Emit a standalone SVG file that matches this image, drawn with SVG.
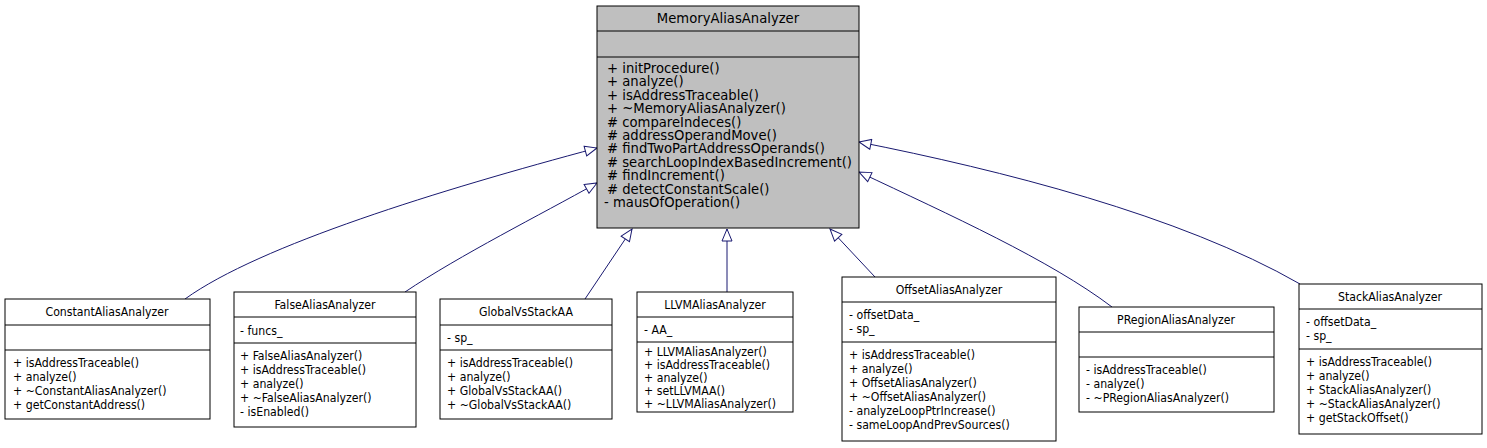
<svg xmlns="http://www.w3.org/2000/svg" width="1487" height="448" viewBox="0 0 1487 448">
<style>
.b{fill:#fff;stroke:#000;stroke-width:1}
.g{fill:#bfbfbf;stroke:#000;stroke-width:1}
text{font-family:"DejaVu Sans Condensed","DejaVu Sans",sans-serif;font-size:12.2px;fill:#000}
.t text{font-family:"DejaVu Sans",sans-serif;font-size:13.2px}
.c{text-anchor:middle}
.e{fill:none;stroke:#191970;stroke-width:1}
</style>
<defs><marker id="a" markerWidth="14" markerHeight="12" refX="13" refY="6" orient="auto" markerUnits="userSpaceOnUse"><path d="M1,1 L13,6 L1,11 Z" fill="#fff" stroke="#191970"/></marker></defs>
<rect width="1487" height="448" fill="#fff"/>
<g id="edges">
<path class="e" marker-end="url(#a)" d="M185,299 C260,245 440,190 597,148"/>
<path class="e" marker-end="url(#a)" d="M405,292 C460,255 540,215 597,183"/>
<path class="e" marker-end="url(#a)" d="M585,299 L632,229"/>
<path class="e" marker-end="url(#a)" d="M727,292 L727,229"/>
<path class="e" marker-end="url(#a)" d="M875,277 L830,229"/>
<path class="e" marker-end="url(#a)" d="M1112,307 C1050,260 950,215 859,172"/>
<path class="e" marker-end="url(#a)" d="M1300,284 C1180,215 1000,170 859,142"/>
</g>
<g id="MemoryAliasAnalyzer" class="t">
<rect class="g" x="597" y="6" width="262" height="222"/>
<path d="M597,31H859M597,57H859" stroke="#000"/>
<text class="c" x="728" y="23">MemoryAliasAnalyzer</text>
<text x="607" y="73">+ initProcedure()</text>
<text x="607" y="86.4">+ analyze()</text>
<text x="607" y="99.8">+ isAddressTraceable()</text>
<text x="607" y="113.2">+ ~MemoryAliasAnalyzer()</text>
<text x="607" y="126.6"># compareIndeces()</text>
<text x="607" y="140"># addressOperandMove()</text>
<text x="607" y="153.4"># findTwoPartAddressOperands()</text>
<text x="607" y="166.8"># searchLoopIndexBasedIncrement()</text>
<text x="607" y="180.2"># findIncrement()</text>
<text x="607" y="193.6"># detectConstantScale()</text>
<text x="604" y="207">- mausOfOperation()</text>
</g>
<g id="ConstantAliasAnalyzer">
<rect class="b" x="5" y="299" width="205" height="120"/>
<path d="M5,325H210M5,350H210" stroke="#000"/>
<text class="c" x="107" y="316">ConstantAliasAnalyzer</text>
<text x="13" y="367">+ isAddressTraceable()</text>
<text x="13" y="381">+ analyze()</text>
<text x="13" y="395">+ ~ConstantAliasAnalyzer()</text>
<text x="13" y="409">+ getConstantAddress()</text>
</g>
<g id="FalseAliasAnalyzer">
<rect class="b" x="234" y="292" width="182" height="135"/>
<path d="M234,317H416M234,343H416" stroke="#000"/>
<text class="c" x="325" y="309">FalseAliasAnalyzer</text>
<text x="240" y="335">- funcs_</text>
<text x="240" y="360">+ FalseAliasAnalyzer()</text>
<text x="240" y="374">+ isAddressTraceable()</text>
<text x="240" y="388">+ analyze()</text>
<text x="240" y="402">+ ~FalseAliasAnalyzer()</text>
<text x="240" y="416">- isEnabled()</text>
</g>
<g id="GlobalVsStackAA">
<rect class="b" x="440" y="299" width="172" height="120"/>
<path d="M440,325H612M440,350H612" stroke="#000"/>
<text class="c" x="526" y="316">GlobalVsStackAA</text>
<text x="447" y="342">- sp_</text>
<text x="447" y="367">+ isAddressTraceable()</text>
<text x="447" y="381">+ analyze()</text>
<text x="447" y="395">+ GlobalVsStackAA()</text>
<text x="447" y="409">+ ~GlobalVsStackAA()</text>
</g>
<g id="LLVMAliasAnalyzer">
<rect class="b" x="637" y="292" width="156" height="120"/>
<path d="M637,317H793M637,342H793" stroke="#000"/>
<text class="c" x="715" y="309">LLVMAliasAnalyzer</text>
<text x="644" y="334">- AA_</text>
<text x="644" y="356">+ LLVMAliasAnalyzer()</text>
<text x="644" y="369">+ isAddressTraceable()</text>
<text x="644" y="382">+ analyze()</text>
<text x="644" y="395">+ setLLVMAA()</text>
<text x="644" y="408">+ ~LLVMAliasAnalyzer()</text>
</g>
<g id="OffsetAliasAnalyzer">
<rect class="b" x="842" y="277" width="214" height="164"/>
<path d="M842,302H1056M842,342H1056" stroke="#000"/>
<text class="c" x="949" y="294">OffsetAliasAnalyzer</text>
<text x="849" y="319">- offsetData_</text>
<text x="849" y="333">- sp_</text>
<text x="849" y="359">+ isAddressTraceable()</text>
<text x="849" y="373">+ analyze()</text>
<text x="849" y="387">+ OffsetAliasAnalyzer()</text>
<text x="849" y="401">+ ~OffsetAliasAnalyzer()</text>
<text x="849" y="415">- analyzeLoopPtrIncrease()</text>
<text x="849" y="429">- sameLoopAndPrevSources()</text>
</g>
<g id="PRegionAliasAnalyzer">
<rect class="b" x="1079" y="307" width="195" height="105"/>
<path d="M1079,332H1274M1079,357H1274" stroke="#000"/>
<text class="c" x="1176" y="324">PRegionAliasAnalyzer</text>
<text x="1086" y="374">- isAddressTraceable()</text>
<text x="1086" y="388">- analyze()</text>
<text x="1086" y="402">- ~PRegionAliasAnalyzer()</text>
</g>
<g id="StackAliasAnalyzer">
<rect class="b" x="1299" y="284" width="183" height="150"/>
<path d="M1299,309H1482M1299,349H1482" stroke="#000"/>
<text class="c" x="1390" y="301">StackAliasAnalyzer</text>
<text x="1306" y="326">- offsetData_</text>
<text x="1306" y="340">- sp_</text>
<text x="1306" y="366">+ isAddressTraceable()</text>
<text x="1306" y="380">+ analyze()</text>
<text x="1306" y="394">+ StackAliasAnalyzer()</text>
<text x="1306" y="408">+ ~StackAliasAnalyzer()</text>
<text x="1306" y="422">+ getStackOffset()</text>
</g>
</svg>
